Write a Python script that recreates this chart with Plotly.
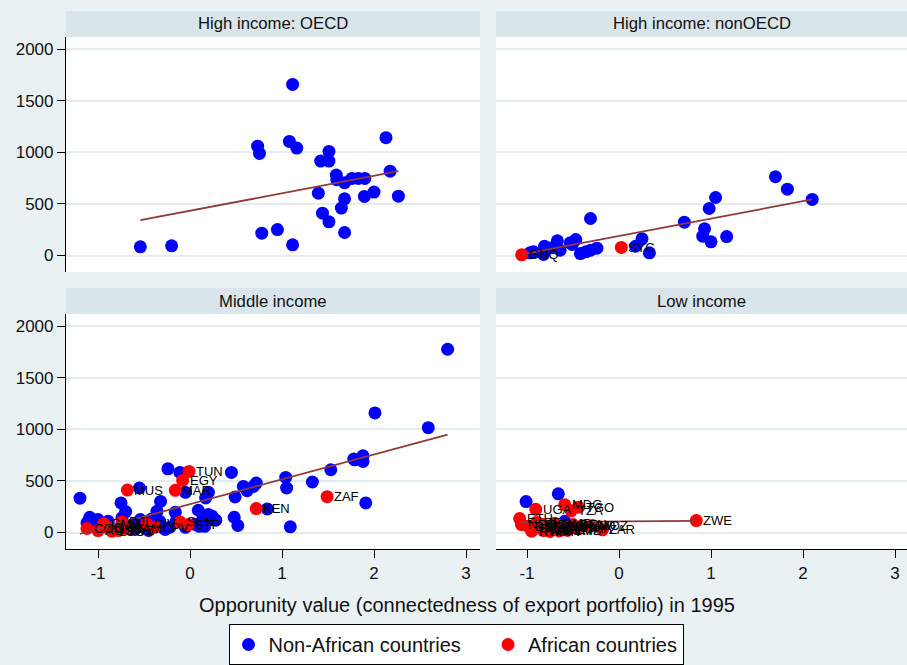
import plotly.graph_objects as go

# panel titles
panels = ["High income: OECD", "High income: nonOECD", "Middle income", "Low income"]

# High income: OECD (no African countries)
oecd_x = [-0.54, -0.20, 0.735, 0.755, 0.78, 0.95, 1.115, 1.08, 1.16, 1.115, 1.395, 1.42, 1.44, 1.51, 1.51,
          1.51, 1.59, 1.595, 1.645, 1.68, 1.68, 1.68, 1.76, 1.83, 1.90, 1.895, 2.0, 2.13, 2.175, 2.265]
oecd_y = [84, 94, 1061, 990, 217, 252, 1660, 1107, 1042, 104, 605, 916, 411, 1010, 916,
          327, 780, 735, 460, 706, 550, 223, 748, 748, 748, 573, 615, 1143, 818, 576]

# High income: nonOECD
nonoecd_x = [-0.967, -0.93, -0.81, -0.82, -0.73, -0.67, -0.64, -0.53, -0.47, -0.51, -0.42, -0.36, -0.31, -0.31,
             -0.24, 0.18, 0.25, 0.33, 0.71, 0.93, 0.91, 1.0, 0.98, 1.05, 1.17, 1.70, 1.83, 2.10]
nonoecd_y = [26, 36, 90, 10, 75, 143, 51, 123, 155, 107, 19, 36, 359, 51,
             71, 90, 162, 26, 323, 259, 188, 133, 456, 563, 184, 764, 644, 544]
nonoecd_afr_code = ["GNQ", "SYC"]
nonoecd_afr_x = [-1.058, 0.025]
nonoecd_afr_y = [7, 78]

# Middle income
mid_x = [-1.196, -0.24, -0.11, -0.55, -0.05, 0.45, 0.49, 0.58, 0.62, 0.72, 0.69, 1.04, 1.05, 1.33, 1.53,
         1.78, 1.88, 1.91, 0.84, 1.09, 0.48, 0.52, 0.24, 0.09, 0.145, 0.20, 0.17, -0.16, -0.32, -0.36,
         -0.75, -0.70, -0.74, -0.54, -1.12, -1.0, -1.05, -1.09, -0.29, -0.51, -0.33, 0.2, -0.22, -0.27,
         -0.62, -0.89, 1.79, 1.88, 2.01, 2.59, 2.80, -0.95, -0.85, -0.60, -0.45, -0.05, 0.10, 0.05,
         -0.15, -0.42, 0.28, 0.16]
mid_y = [333, 618, 583, 432, 390, 583, 345, 447, 406, 480, 447, 534, 432, 490, 609,
         712, 744, 287, 229, 55, 148, 68, 158, 216, 152, 390, 335, 196, 302, 206,
         287, 203, 142, 126, 94, 126, 109, 148, 45, 61, 109, 174, 51, 29,
         77, 109, 705, 689, 1160, 1017, 1778, 60, 40, 30, 20, 50, 60, 80,
         110, 130, 120, 60]
mid_afr_code = ["TUN", "EGY", "MUS", "MAR", "ZAF", "KEN", "COG", "AGO", "CMR", "LSO", "SWZ", "DJI",
                "CIV", "CPV", "SEN", "STP", "GAB", "BWA", "NAM"]
mid_afr_x = [-0.01, -0.08, -0.68, -0.16, 1.49, 0.72, -1.12, -1.00, -0.94, -0.85, -0.78, -0.74,
             -0.47, -0.38, -0.11, -0.02, -0.90, -0.83, -0.70]
mid_afr_y = [593, 505, 412, 409, 348, 232, 39, 19, 84, 13, 19, 103,
             84, 51, 103, 77, 50, 30, 40]

# Low income
low_x = [-1.01, -0.66, -0.59, -0.55]
low_y = [300, 375, 109, 50]
low_afr_code = ["ETH", "UGA", "NER", "BDI", "RWA", "TCD", "MLI", "BFA", "GNB", "SLE", "CAF", "MDG", "TZA",
                "TGO", "BEN", "GHA", "MWI", "MOZ", "ZAR", "ZWE", "NGA", "GMB", "ZMB", "SDN", "GIN",
                "COM", "MRT"]
low_afr_x = [-1.08, -0.905, -1.06, -0.99, -0.95, -0.88, -0.82, -0.895, -0.77, -0.71, -0.66, -0.59, -0.52,
             -0.44, -0.50, -0.46, -0.40, -0.29, -0.18, 0.84, -0.62, -0.70, -0.56, -0.84, -0.75,
             -0.93, -0.65]
low_afr_y = [135, 225, 77, 61, 13, 45, 19, 100, 61, 29, 71, 270, 210,
             245, 77, 40, 65, 68, 26, 116, 45, 90, 20, 80, 10,
             40, 15]

# fitted line values at each panel's min and max x
fit_y_start = [343, 10, -13, 100]
fit_y_end = [818, 544, 950, 113]

x_ticks = [-1, 0, 1, 2, 3]
x_tick_labels = ["-1", "0", "1", "2", "3"]
y_ticks = [0, 500, 1000, 1500, 2000]

BG = "#eaf1f3"
HEAD = "#d9e5ea"
GRID = "#e4ecf0"
FONT = "Liberation Sans, Arial, sans-serif"
W, H = 907, 665
MS = 13


def fx(p):
    return p / W


def fy(p):
    return 1 - p / H


panel_data = [
    (oecd_x, oecd_y, [], [], []),
    (nonoecd_x, nonoecd_y, nonoecd_afr_x, nonoecd_afr_y, nonoecd_afr_code),
    (mid_x, mid_y, mid_afr_x, mid_afr_y, mid_afr_code),
    (low_x, low_y, low_afr_x, low_afr_y, low_afr_code),
]

# pixel boxes of the four plot areas: x0, x1, y0(top), y1(bottom)
boxes = [(66, 480, 37, 272), (496, 907, 37, 272), (66, 480, 314, 549), (496, 907, 314, 549)]

fig = go.Figure()
shapes = []
annotations = []
for i, (bx, by, ax_, ay_, codes) in enumerate(panel_data):
    n = "" if i == 0 else str(i + 1)
    xa, ya = "x" + n, "y" + n
    fig.add_trace(go.Scatter(
        x=bx, y=by, xaxis=xa, yaxis=ya, mode="markers",
        marker=dict(color="#0000ff", size=MS, line=dict(width=0)),
        name="Non-African countries\u00a0\u00a0\u00a0\u00a0", legendgroup="non",
        showlegend=(i == 0),
    ))
    if ax_:
        fig.add_trace(go.Scatter(
            x=ax_, y=ay_, xaxis=xa, yaxis=ya, mode="markers",
            marker=dict(color="#ff0000", size=MS, line=dict(width=0)),
            name="African countries", legendgroup="afr", showlegend=(i == 1),
        ))
        # country codes as annotations so they sit above every marker
        for cx, cy, code in zip(ax_, ay_, codes):
            annotations.append(dict(
                x=cx, y=cy, xref=xa, yref=ya, text=code, showarrow=False,
                xanchor="left", yanchor="middle", xshift=6, borderpad=0,
                font=dict(family=FONT, size=13, color="black"),
            ))
    allx = list(bx) + list(ax_)
    fig.add_trace(go.Scatter(
        x=[min(allx), max(allx)], y=[fit_y_start[i], fit_y_end[i]], xaxis=xa, yaxis=ya,
        mode="lines", line=dict(color="#8e3a3a", width=1.8), showlegend=False, hoverinfo="skip",
    ))

    x0, x1, t, b = boxes[i]
    left = i in (0, 2)
    bottom = i in (2, 3)
    rng_x = [-1.348, 3.152] if left else [-1.337, 3.13]
    fig.layout["xaxis" + n] = dict(
        domain=[fx(x0), fx(x1)], anchor=ya, range=rng_x,
        tickvals=x_ticks, ticktext=x_tick_labels, showgrid=False, zeroline=False,
        showline=bottom, linecolor="black", linewidth=1.2,
        ticks="outside" if bottom else "", ticklen=8, tickcolor="black",
        showticklabels=bottom, tickfont=dict(family=FONT, size=17, color="#111"),
    )
    fig.layout["yaxis" + n] = dict(
        domain=[fy(b), fy(t)], anchor=xa, range=[-160, 2120],
        tickvals=y_ticks, showgrid=True, gridcolor=GRID, gridwidth=2,
        zeroline=False, showline=left, linecolor="black", linewidth=1.2,
        ticks="outside" if left else "", ticklen=8, tickcolor="black",
        showticklabels=left, tickfont=dict(family=FONT, size=17, color="#111"),
    )
    # white plot region
    shapes.append(dict(type="rect", xref="paper", yref="paper", x0=fx(x0), x1=fx(x1),
                       y0=fy(b), y1=fy(t), fillcolor="white", line=dict(width=0), layer="below"))
    # header bar
    shapes.append(dict(type="rect", xref="paper", yref="paper", x0=fx(x0), x1=fx(x1),
                       y0=fy(t), y1=fy(t - 26), fillcolor=HEAD, line=dict(width=0), layer="below"))
    annotations.append(dict(text=panels[i], xref="paper", yref="paper", x=fx((x0 + x1) / 2),
                            y=fy(t - 13), showarrow=False, xanchor="center", yanchor="middle",
                            font=dict(family=FONT, size=16.7, color="#111")))

annotations.append(dict(text="Opporunity value (connectedness of export portfolio) in 1995",
                        xref="paper", yref="paper", x=fx(467), y=fy(605), showarrow=False,
                        xanchor="center", yanchor="middle",
                        font=dict(family=FONT, size=20, color="#111")))

fig.update_layout(
    width=W, height=H, margin=dict(l=0, r=0, t=0, b=0),
    paper_bgcolor=BG, plot_bgcolor="rgba(0,0,0,0)",
    shapes=shapes, annotations=annotations,
    font=dict(family=FONT, color="#111"),
    legend=dict(orientation="h", x=fx(456), xanchor="center", y=0, yanchor="bottom",
                bgcolor="white", bordercolor="black", borderwidth=1,
                font=dict(family=FONT, size=20, color="#111")),
    showlegend=True,
)

# drop the page's default 8px body margin so the figure sits at the window corner
fig.write_html("out.html", config={"displayModeBar": False},
               post_script="document.body.style.margin='0';document.body.style.background='#eaf1f3';")
